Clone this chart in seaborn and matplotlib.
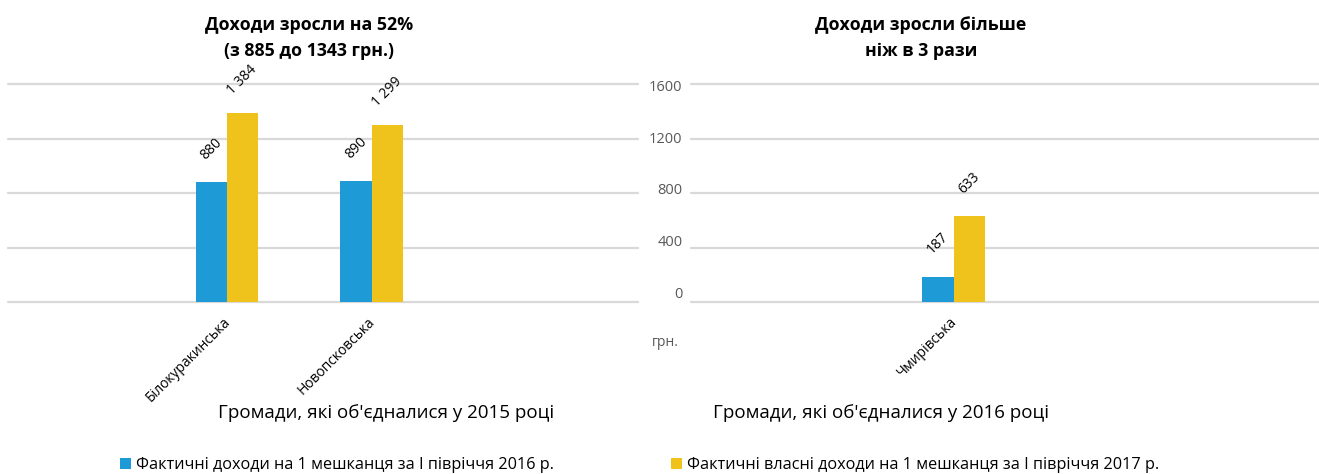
import matplotlib
matplotlib.use("Agg")
import matplotlib.pyplot as plt
import matplotlib.transforms as mtransforms
from matplotlib.patches import Patch
import pandas as pd
import seaborn as sns

# --- data -------------------------------------------------------------
series = [
    "Фактичні доходи на 1 мешканця за І півріччя 2016 р.",
    "Фактичні власні доходи на 1 мешканця за І півріччя 2017 р.",
]
communities_2015 = ["Білокуракинська", "Новопсковська"]
income_2016_h1_2015 = [880, 890]
income_2017_h1_2015 = [1384, 1299]

communities_2016 = ["Чмирівська"]
income_2016_h1_2016 = [187]
income_2017_h1_2016 = [633]

y_ticks = [0, 400, 800, 1200, 1600]

title_2015 = "Доходи зросли на 52%\n(з 885 до 1343 грн.)"
title_2016 = "Доходи зросли більше\nніж в 3 рази"
xlabel_2015 = "Громади, які об'єдналися у 2015 році"
xlabel_2016 = "Громади, які об'єдналися у 2016 році"
unit_label = "грн."

BLUE = "#1E9BD7"
YELLOW = "#F0C31C"
GRID = "#D9D9D9"
GRAY_TXT = "#595959"

sns.set_theme(style="white")
plt.rcParams["font.family"] = ["Open Sans", "DejaVu Sans"]
plt.rcParams["text.color"] = "black"

W, H = 1319, 474
fig = plt.figure(figsize=(W / 100, H / 100), dpi=100)


def rect(x0, x1, ytop, ybot):
    return [x0 / W, 1 - ybot / H, (x1 - x0) / W, (ybot - ytop) / H]


def make_frame(cats, v1, v2):
    return pd.DataFrame({
        "cat": cats * 2,
        "val": v1 + v2,
        "series": [series[0]] * len(cats) + [series[1]] * len(cats),
    })


def draw(ax, cats, v1, v2, xlim):
    df = make_frame(cats, v1, v2)
    sns.barplot(data=df, x="cat", y="val", hue="series", hue_order=series,
                palette=[BLUE, YELLOW], width=0.43, gap=0, saturation=1,
                legend=False, ax=ax, linewidth=0)
    ax.set_xlim(*xlim)
    ax.set_ylim(0, 1600)
    ax.set_yticks(y_ticks)
    ax.yaxis.grid(True, color=GRID, lw=1.6)
    for gl in ax.get_ygridlines():
        gl.set_clip_on(False)
    ax.set_axisbelow(True)
    for s in ax.spines.values():
        s.set_visible(False)
    ax.set_ylabel("")
    ax.tick_params(axis="x", length=0, pad=9, labelsize=10, colors="black")
    shift = mtransforms.ScaledTranslation(-4 / 100, 0, fig.dpi_scale_trans)
    for lab in ax.get_xticklabels():
        lab.set_rotation(45)
        lab.set_ha("right")
        lab.set_va("top")
        lab.set_rotation_mode("anchor")
        lab.set_transform(lab.get_transform() + shift)
    # value labels above each bar
    for bar in ax.patches:
        h = bar.get_height()
        if h <= 0:
            continue
        txt = f"{int(round(h)):,}".replace(",", " ")
        ax.annotate(txt, (bar.get_x() + bar.get_width() / 2, h),
                    xytext=(0, 33), textcoords="offset pixels",
                    rotation=45, ha="center", va="center",
                    fontsize=10, color="black", annotation_clip=False)


# left panel: communities united in 2015
ax1 = fig.add_axes(rect(8, 638, 84, 302))
draw(ax1, communities_2015, income_2016_h1_2015, income_2017_h1_2015,
     (-1.51, 2.84))
ax1.tick_params(axis="y", left=False, labelleft=False)
ax1.set_xlabel(xlabel_2015, fontsize=13.5, color="black")
ax1.xaxis.set_label_coords((386.5 - 8) / 630, (302 - 404) / 218)

# right panel: communities united in 2016
ax2 = fig.add_axes(rect(691, 1319, 84, 302))
draw(ax2, communities_2016, income_2016_h1_2016, income_2017_h1_2016,
     (-1.81, 2.52))
ax2.tick_params(axis="y", left=False, labelleft=False)
ax2.set_xlabel(xlabel_2016, fontsize=13.5, color="black")
ax2.xaxis.set_label_coords((881 - 691) / 628, (302 - 404) / 218)

# value axis of the right panel (its own scale)
axv = fig.add_axes(rect(691, 1319, 84, 302))
axv.patch.set_visible(False)
for s in axv.spines.values():
    s.set_visible(False)
axv.set_ylim(-70, 1608)
axv.set_yticks(y_ticks)
axv.set_xticks([])
axv.tick_params(axis="y", length=0, pad=6, labelsize=10.5, colors=GRAY_TXT)
axv.set_yticklabels([str(t) for t in y_ticks])

fig.text(665 / W, 1 - 342 / H, unit_label, fontsize=10, color=GRAY_TXT,
         ha="center", va="center")

# titles
fig.text(309 / W, 1 - 38 / H, title_2015, fontsize=12.8, fontweight="bold",
         ha="center", va="center", linespacing=1.5)
fig.text(921 / W, 1 - 38 / H, title_2016, fontsize=12.8, fontweight="bold",
         ha="center", va="center", linespacing=1.5)

# legend entries along the bottom
for color, label, x in [(BLUE, series[0], 120), (YELLOW, series[1], 671)]:
    fig.legend(handles=[Patch(facecolor=color, edgecolor="none", label=label)],
               loc="center left", bbox_to_anchor=(x / W, 1 - 465 / H),
               frameon=False, fontsize=11.7, handlelength=0.7,
               handleheight=0.7, handletextpad=0.3, borderpad=0,
               borderaxespad=0)

fig.savefig("out.png", dpi=100, facecolor="white")
